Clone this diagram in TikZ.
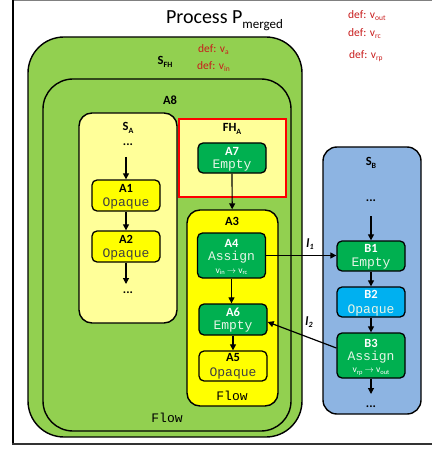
\documentclass[tikz,border=0pt]{standalone}
\usepackage{fontspec}
\setmainfont{Carlito}
\newfontfamily\monof{Liberation Mono}
\usetikzlibrary{arrows.meta,positioning,calc}
\definecolor{fhgreen}{HTML}{92D050}
\definecolor{lyellow}{HTML}{FFFF99}
\definecolor{syellow}{HTML}{FFFF00}
\definecolor{actgreen}{HTML}{00B050}
\definecolor{sblue}{HTML}{8DB4E2}
\definecolor{bcyan}{HTML}{00B0F0}
\definecolor{defred}{RGB}{200,28,28}
\definecolor{monogray}{HTML}{404040}
\definecolor{monolight}{HTML}{E6F5E6}
\begin{document}
\begin{tikzpicture}[x=1pt,y=-1pt,
  grp/.style={draw, line width=1.4pt, inner sep=0pt, rectangle},
  act/.style={draw, line width=1.3pt, rounded corners=5pt, minimum width=68pt, inner sep=0pt, rectangle},
  lbl/.style={font=\bfseries\fontsize{12.5}{12.5}\selectfont, inner sep=0pt},
  mono/.style={font=\monof\fontsize{13}{13}\selectfont, inner sep=0pt},
  small/.style={font=\fontsize{9.5}{9.5}\selectfont, inner sep=0pt},
  deftext/.style={font=\fontsize{11.5}{11.5}\selectfont, text=defred, inner sep=0pt, anchor=base west},
  arr/.style={-{Triangle[length=6pt,width=6pt]}, line width=1.2pt}
]
\useasboundingbox (0,0) rectangle (431,449);
% frame
\draw[gray, line width=1.2pt] (13,0.6) -- (440,0.6);
\draw[black, line width=2pt] (13,0) -- (13,444);
\draw[black!80, line width=1.8pt] (12,444) -- (440,444);

% title and definitions
\node[inner sep=0pt, anchor=base, font=\fontsize{20}{20}\selectfont] (title) at (224.5,24) {Process P\raisebox{-5pt}{\fontsize{13}{13}\selectfont merged}};
\node[deftext] (dout) at (348,19) {def: v\raisebox{-2pt}{\fontsize{7.5}{7.5}\selectfont out}};
\node[deftext] (drc) at (348,37) {def: v\raisebox{-2pt}{\fontsize{7.5}{7.5}\selectfont rc}};
\node[deftext] (drp) at (349,59) {def: v\raisebox{-2pt}{\fontsize{7.5}{7.5}\selectfont rp}};

% containers
\node[grp, fill=fhgreen, rounded corners=36pt, minimum width=274pt, minimum height=400pt] (SFH) at (165,237) {};
\node[grp, fill=fhgreen, rounded corners=30pt, minimum width=248pt, minimum height=352pt] (A8) at (167,255) {};
\node[grp, fill=lyellow, rounded corners=13pt, minimum width=98pt, minimum height=210pt] (SA) at (128,218) {};
\node[grp, fill=lyellow, draw=red, line width=1.3pt, minimum width=107pt, minimum height=78pt] (FHA) at (232.5,158) {};
\node[grp, fill=syellow, rounded corners=13pt, minimum width=91pt, minimum height=196pt] (A3) at (232.5,308) {};
\node[grp, fill=sblue, rounded corners=14pt, minimum width=98pt, minimum height=267pt] (SB) at (372,280.5) {};

\node[deftext] (dva) at (198,53) {def: v\raisebox{-2pt}{\fontsize{7.5}{7.5}\selectfont a}};
\node[deftext] (dvin) at (197,70) {def: v\raisebox{-2pt}{\fontsize{7.5}{7.5}\selectfont in}};

% container labels
\node[lbl] (lSFH) at (165,62) {S\raisebox{-2.5pt}{\fontsize{8}{8}\selectfont FH}};
\node[lbl] (lA8) at (170,100) {A8};
\node[lbl] (lSA) at (128,128) {S\raisebox{-2.5pt}{\fontsize{8}{8}\selectfont A}};
\node[lbl] (dotsA1) at (128,145) {...};
\node[lbl] (dotsA2) at (128,293) {...};
\node[lbl] (lFHA) at (232,129) {FH\raisebox{-2.5pt}{\fontsize{8}{8}\selectfont A}};
\node[lbl] (lA3) at (232,221) {A3};
\node[mono] (flowA3) at (232,396) {Flow};
\node[mono] (flowA8) at (167,418) {Flow};
\node[lbl] (lSB) at (371,163) {S\raisebox{-2.5pt}{\fontsize{8}{8}\selectfont B}};
\node[lbl] (dotsB1) at (371,201) {...};
\node[lbl] (dotsB2) at (371,407) {...};

% activities
\node[act, fill=syellow, minimum height=31pt] (A1) at (126,195.5) {};
\node[act, fill=syellow, minimum height=31pt] (A2) at (126,246.5) {};
\node[act, fill=actgreen, minimum height=30pt] (A7) at (232,158) {};
\node[act, fill=actgreen, minimum height=45pt] (A4) at (231.5,255.5) {};
\node[act, fill=actgreen, minimum height=31pt] (A6) at (233,319.5) {};
\node[act, fill=syellow, minimum height=30pt] (A5) at (233,366) {};
\node[act, fill=actgreen, minimum height=30pt] (B1) at (371,256) {};
\node[act, fill=bcyan, minimum height=30pt] (B2) at (371,302) {};
\node[act, fill=actgreen, minimum height=45pt] (B3) at (371,355.5) {};

% activity texts
\node[lbl] (tA1) at (126,188) {A1};
\node[mono, text=monogray] (oA1) at (126,203.5) {Opaque};
\node[lbl] (tA2) at (126,239) {A2};
\node[mono, text=monogray] (oA2) at (126,254.5) {Opaque};
\node[lbl, text=white] (tA7) at (232,151) {A7};
\node[mono, text=monolight] (oA7) at (232,166) {Empty};
\node[lbl, text=white] (tA4) at (231.5,243) {A4};
\node[mono, text=monolight] (oA4) at (231.5,257.5) {Assign};
\node[small, text=white] (vA4) at (231.5,272) {v\raisebox{-1.5pt}{\fontsize{6.5}{6.5}\selectfont in} $\rightarrow$ v\raisebox{-1.5pt}{\fontsize{6.5}{6.5}\selectfont rc}};
\node[lbl, text=white] (tA6) at (233,312) {A6};
\node[mono, text=monolight] (oA6) at (233,327) {Empty};
\node[lbl] (tA5) at (233,357.5) {A5};
\node[mono, text=monogray] (oA5) at (233,373.5) {Opaque};
\node[lbl, text=white] (tB1) at (371,248.5) {B1};
\node[mono, text=monolight] (oB1) at (371,264) {Empty};
\node[lbl, text=white] (tB2) at (371,294.5) {B2};
\node[mono, text=monolight] (oB2) at (371,310) {Opaque};
\node[lbl, text=white] (tB3) at (371,343.5) {B3};
\node[mono, text=monolight] (oB3) at (371,357.5) {Assign};
\node[small, text=white] (vB3) at (371,372) {v\raisebox{-1.5pt}{\fontsize{6.5}{6.5}\selectfont rp} $\rightarrow$ v\raisebox{-1.5pt}{\fontsize{6.5}{6.5}\selectfont out}};

% free ends
\coordinate (sa0) at (126,157);
\coordinate (sa1) at (126,284);
\coordinate (sb0) at (371,216);
\coordinate (sb1) at (371,394);

% connectors
\draw[arr] (sa0) -- (A1);
\draw[arr] (A1) -- (A2);
\draw[arr] (A2) -- (sa1);
\draw[arr] (A7) -- (A3);
\draw[arr] (A4) -- (A4 |- A6.north);
\draw[arr] (A6) -- (A5);
\draw[arr] (sb0) -- (B1);
\draw[arr] (B1) -- (B2);
\draw[arr] (B2) -- (B3);
\draw[arr] (B3) -- (sb1);
\draw[arr] (A4.east) -- (A4.east -| B1.west);
\draw[arr] ([yshift=7.5pt]B3.west) -- ([yshift=-2.5pt]A6.east);

% link labels
\node[lbl, font=\bfseries\itshape\fontsize{12.5}{12.5}\selectfont] (l1) at (310,244) {l\raisebox{-2.5pt}{\fontsize{8}{8}\selectfont 1}};
\node[lbl, font=\bfseries\itshape\fontsize{12.5}{12.5}\selectfont] (l2) at (309,322) {l\raisebox{-2.5pt}{\fontsize{8}{8}\selectfont 2}};
\end{tikzpicture}
\end{document}
